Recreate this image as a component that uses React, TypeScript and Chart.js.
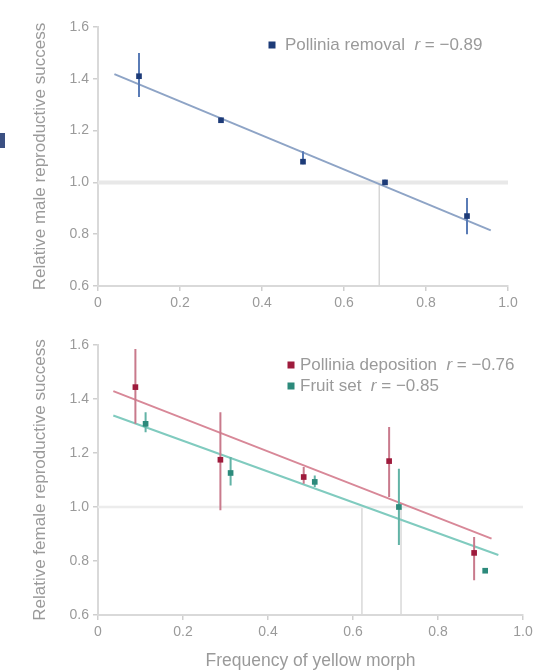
import React, { useEffect, useRef } from 'react';
import { Chart, registerables } from 'chart.js';

Chart.register(...registerables);

// ---------- shared axis data ----------
const xTicks = [0, 0.2, 0.4, 0.6, 0.8, 1.0];
const xTickLabels = ['0', '0.2', '0.4', '0.6', '0.8', '1.0'];
const yTicks = [0.6, 0.8, 1.0, 1.2, 1.4, 1.6];
const yTickLabels = ['0.6', '0.8', '1.0', '1.2', '1.4', '1.6'];

// ---------- top panel: pollinia removal ----------
const removalX = [0.1, 0.3, 0.5, 0.7, 0.9];
const removalY = [1.41, 1.24, 1.08, 1.0, 0.87];
const removalLow = [1.33, 1.23, 1.07, 0.99, 0.8];
const removalHigh = [1.5, 1.25, 1.12, 1.01, 0.94];
const removalFitX = [0.04, 0.958];
const removalFitY = [1.418, 0.815];
const removalLabel = 'Pollinia removal';
const removalR = '−0.89';
const topRefX = [0.686];

// ---------- bottom panel: pollinia deposition & fruit set ----------
const depositionX = [0.088, 0.288, 0.484, 0.685, 0.885];
const depositionY = [1.444, 1.175, 1.111, 1.17, 0.83];
const depositionLow = [1.308, 0.988, 1.086, 1.037, 0.729];
const depositionHigh = [1.585, 1.351, 1.148, 1.296, 0.889];
const depositionFitX = [0.036, 0.926];
const depositionFitY = [1.429, 0.883];
const depositionLabel = 'Pollinia deposition';
const depositionR = '−0.76';

const fruitX = [0.112, 0.312, 0.51, 0.708, 0.911];
const fruitY = [1.308, 1.126, 1.093, 1.0, 0.764];
const fruitLow = [1.277, 1.08, 1.074, 0.859, 0.764];
const fruitHigh = [1.351, 1.185, 1.117, 1.142, 0.764];
const fruitFitX = [0.036, 0.942];
const fruitFitY = [1.339, 0.822];
const fruitLabel = 'Fruit set';
const fruitR = '−0.85';
const bottomRefX = [0.621, 0.713];

const refY = 1.0;

const FONT = "'Liberation Sans', Arial, sans-serif";
const TEXT = '#9a9a9a';

const pts = (xs: number[], ys: number[]) => xs.map((x, i) => ({ x, y: ys[i] }));
const errSegments = (xs: number[], lo: number[], hi: number[]) => {
  const out: any[] = [];
  xs.forEach((x, i) => {
    out.push({ x, y: lo[i] }, { x, y: hi[i] }, { x, y: null });
  });
  return out;
};

const legendPlugin = {
  id: 'customLegend',
  afterDraw(chart: any, _args: any, opts: any) {
    const items = opts.items || [];
    const ctx = chart.ctx;
    const { left, top } = chart.chartArea;
    ctx.save();
    ctx.textBaseline = 'middle';
    items.forEach((it: any, i: number) => {
      const cy = top + opts.y + i * opts.gap;
      const mx = left + opts.markerX;
      ctx.fillStyle = it.color;
      ctx.fillRect(mx - 3.5, cy - 3.5, 7, 7);
      let tx = left + opts.textX;
      ctx.fillStyle = TEXT;
      ctx.font = `${opts.size}px ${FONT}`;
      const head = it.label + '  ';
      ctx.fillText(head, tx, cy);
      tx += ctx.measureText(head).width;
      ctx.font = `italic ${opts.size}px ${FONT}`;
      ctx.fillText('r', tx, cy);
      tx += ctx.measureText('r').width;
      ctx.font = `${opts.size}px ${FONT}`;
      ctx.fillText(' = ' + it.r, tx, cy);
    });
    ctx.restore();
  },
};

function axisLabel(ticks: number[], labels: string[]) {
  return (v: any) => {
    const i = ticks.findIndex((t) => Math.abs(t - Number(v)) < 1e-6);
    return i >= 0 ? labels[i] : '';
  };
}

function makeScales(opts: { yTitle: string; xTitle?: string; yWidth: number; xHeight: number }) {
  const common = {
    type: 'linear' as const,
    grid: { drawOnChartArea: false, color: '#cfcfcf', tickLength: 5, lineWidth: 1.5 },
    border: { color: '#d9d9d9', width: 2 },
  };
  return {
    x: {
      ...common,
      min: 0,
      max: 1,
      afterBuildTicks: (s: any) => {
        s.ticks = xTicks.map((v) => ({ value: v }));
      },
      ticks: {
        callback: axisLabel(xTicks, xTickLabels),
        color: TEXT,
        font: { family: FONT, size: 14 },
        padding: 4,
        maxRotation: 0,
        autoSkip: false,
      },
      title: opts.xTitle
        ? { display: true, text: opts.xTitle, color: TEXT, font: { family: FONT, size: 17.5 }, padding: { top: 0, bottom: 0 } }
        : { display: false },
      afterFit: (s: any) => {
        s.height = opts.xHeight;
      },
    },
    y: {
      ...common,
      min: 0.6,
      max: 1.6,
      afterBuildTicks: (s: any) => {
        s.ticks = yTicks.map((v) => ({ value: v }));
      },
      ticks: {
        callback: axisLabel(yTicks, yTickLabels),
        color: TEXT,
        font: { family: FONT, size: 14 },
        padding: 4,
        autoSkip: false,
      },
      title: { display: true, text: opts.yTitle, color: TEXT, font: { family: FONT, size: 17 }, padding: { top: 30, bottom: 0 } },
      afterFit: (s: any) => {
        s.width = opts.yWidth;
      },
    },
  };
}

function lineDs(data: any[], color: string, width: number) {
  return {
    type: 'scatter' as const,
    data,
    showLine: true,
    borderColor: color,
    backgroundColor: color,
    borderWidth: width,
    pointRadius: 0,
    pointHoverRadius: 0,
    spanGaps: false,
  };
}

function pointDs(data: any[], color: string) {
  return {
    type: 'scatter' as const,
    data,
    pointStyle: 'rect',
    pointRadius: 4,
    backgroundColor: color,
    borderColor: color,
    borderWidth: 0,
  };
}

const ChartCanvas: React.FC<{ config: any; width: number; height: number; top: number }> = ({ config, width, height, top }) => {
  const ref = useRef<HTMLCanvasElement | null>(null);
  useEffect(() => {
    if (!ref.current) return;
    const chart = new Chart(ref.current, config);
    return () => chart.destroy();
  }, [config]);
  return (
    <canvas
      ref={ref}
      width={width}
      height={height}
      style={{ position: 'absolute', left: 0, top, width, height }}
    />
  );
};

const topConfig = {
  type: 'scatter',
  data: {
    datasets: [
      pointDs(pts(removalX, removalY), '#1d3b78'),
      lineDs(errSegments(removalX, removalLow, removalHigh), '#5a7cb6', 2),
      lineDs(pts(removalFitX, removalFitY), '#8ea4c6', 2),
      lineDs([{ x: 0, y: refY }, { x: 1, y: refY }], '#e8e8e8', 4),
      ...topRefX.map((x) => lineDs([{ x, y: 0.6 }, { x, y: refY }], '#d6d6d6', 1.5)),
    ],
  },
  options: {
    animation: false,
    responsive: false,
    layout: { padding: { top: 27, right: 30, bottom: 0, left: 0 } },
    plugins: {
      legend: { display: false },
      tooltip: { enabled: false },
      customLegend: {
        items: [{ color: '#1d3b78', label: removalLabel, r: removalR }],
        markerX: 174,
        textX: 187,
        y: 18,
        gap: 21,
        size: 17,
      },
    },
    scales: makeScales({ yTitle: 'Relative male reproductive success', yWidth: 98, xHeight: 34 }),
  },
  plugins: [legendPlugin],
};

const bottomConfig = {
  type: 'scatter',
  data: {
    datasets: [
      pointDs(pts(depositionX, depositionY), '#9e1b3c'),
      pointDs(pts(fruitX, fruitY), '#2c8a7b'),
      lineDs(errSegments(depositionX, depositionLow, depositionHigh), '#c97a8c', 2),
      lineDs(errSegments(fruitX, fruitLow, fruitHigh), '#62b3a6', 2),
      lineDs(pts(depositionFitX, depositionFitY), '#d88898', 2),
      lineDs(pts(fruitFitX, fruitFitY), '#80cbbf', 2),
      lineDs([{ x: 0, y: refY }, { x: 1, y: refY }], '#ececec', 2.5),
      ...bottomRefX.map((x) => lineDs([{ x, y: 0.6 }, { x, y: refY }], '#d9d9d9', 1.5)),
    ],
  },
  options: {
    animation: false,
    responsive: false,
    layout: { padding: { top: 25, right: 15, bottom: 0, left: 0 } },
    plugins: {
      legend: { display: false },
      tooltip: { enabled: false },
      customLegend: {
        items: [
          { color: '#9e1b3c', label: depositionLabel, r: depositionR },
          { color: '#2c8a7b', label: fruitLabel, r: fruitR },
        ],
        markerX: 193,
        textX: 202,
        y: 20,
        gap: 21,
        size: 17,
      },
    },
    scales: makeScales({
      yTitle: 'Relative female reproductive success',
      xTitle: 'Frequency of yellow morph',
      yWidth: 98,
      xHeight: 57,
    }),
  },
  plugins: [legendPlugin],
};

export default function App() {
  return (
    <div style={{ position: 'absolute', left: 0, top: 0, width: 538, height: 672, background: '#fff', overflow: 'hidden' }}>
      <div style={{ position: 'absolute', left: 0, top: 133, width: 5, height: 15, background: '#3b5082' }} />
      <ChartCanvas config={topConfig} width={538} height={320} top={0} />
      <ChartCanvas config={bottomConfig} width={538} height={352} top={320} />
    </div>
  );
}
